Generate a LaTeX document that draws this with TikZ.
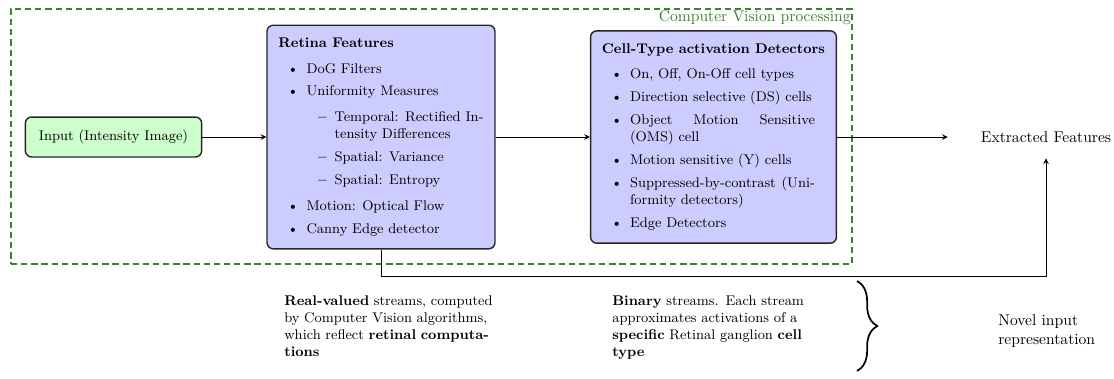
\documentclass[tikz,border=0pt]{standalone}
\usepackage{enumitem}
\usetikzlibrary{decorations.pathreplacing}
\setlist[itemize]{leftmargin=18pt, itemsep=3.7pt, parsep=0pt, topsep=5.5pt, partopsep=0pt}
\setlength{\parindent}{0pt}
\definecolor{cvgreen}{RGB}{60,128,50}

\begin{document}
\begin{tikzpicture}[x=0.641pt, y=-0.641pt, >=stealth,
    block/.style={draw=black!85, line width=0.9pt, rounded corners=4pt, inner xsep=7.3pt, inner ysep=8pt, font=\small},
    inputbox/.style={block, fill=green!20, inner xsep=8.7pt, inner ysep=8.3pt},
    featbox/.style={block, fill=blue!20, align=justify},
    cvframe/.style={draw=cvgreen, thick, dash pattern=on 4pt off 2.5pt, minimum width=539pt, minimum height=163.5pt},
    cvlabel/.style={text=cvgreen, inner sep=1pt},
    note/.style={align=left, inner sep=0pt, font=\small},
    flow/.style={->, semithick}]
  \useasboundingbox (0,0) rectangle (1114,378);

  % computer vision part
  \node[cvframe] (cv) at (431.5,136.5) {};
  \node[cvlabel, anchor=north east] (cvtitle) at (cv.north east) {Computer Vision processing};

  \node[inputbox] (input) at (113.5,137) {Input (Intensity Image)};
  \node[featbox, text width=131.5pt] (retina) at (381,137) {\textbf{Retina Features}
    \begin{itemize}
      \item DoG Filters
      \item Uniformity Measures
      \begin{itemize}
        \item Temporal: Rectified Intensity Differences
        \item Spatial: Variance
        \item Spatial: Entropy
      \end{itemize}
      \item Motion: Optical Flow
      \item Canny Edge detector
    \end{itemize}};
  \node[featbox, text width=143pt] (cell) at (713.5,137) {\textbf{Cell-Type activation Detectors}
    \begin{itemize}[rightmargin=6.5pt]
      \item On, Off, On-Off cell types
      \item Direction selective (DS) cells
      \item Object Motion Sensitive (OMS) cell
      \item Motion sensitive (Y) cells
      \item Suppressed-by-contrast (Uniformity detectors)
      \item Edge Detectors
    \end{itemize}};
  \node[minimum width=125.6pt, minimum height=27pt] (extracted) at (1046,137) {Extracted Features};

  \draw[flow] (input) -- (retina);
  \draw[flow] (retina) -- (cell);
  \draw[flow] (cell) -- (extracted);
  \draw[flow] (retina.south) -- ++(0,27) -| (extracted.south);

  % notes below
  \node[note, text width=140pt, anchor=north west] (realnote) at (284,295) {\textbf{Real-valued} streams, computed by Computer Vision algorithms, which reflect \textbf{retinal computations}};
  \node[note, text width=133pt, anchor=north west] (binnote) at (612,295) {\textbf{Binary} streams. Each stream approximates activations of a \textbf{specific} Retinal ganglion \textbf{cell type}};
  \coordinate (bracetop) at (857,281);
  \coordinate (bracebot) at (857,371);
  \draw[decorate, decoration={brace, amplitude=13pt}, line width=1.1pt] (bracetop) -- (bracebot);
  \node[align=left, anchor=west, inner sep=0pt] (novel) at (998,331) {Novel input\\representation};
\end{tikzpicture}
\end{document}
